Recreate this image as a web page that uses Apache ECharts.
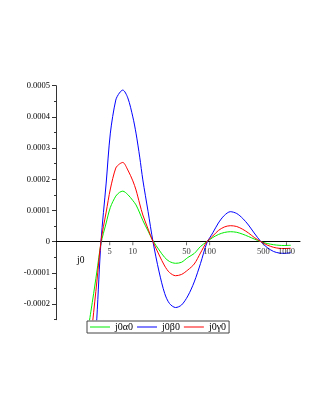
<!DOCTYPE html>
<html><head><meta charset="utf-8">
<script src="https://cdn.jsdelivr.net/npm/echarts@6/dist/echarts.min.js"></script>
<style>html,body{margin:0;padding:0;background:#fff}#c{width:323px;height:418px}</style>
</head><body><div id="c"></div>
<script>
const xValues = [2.5,3.0,3.4,3.85,4.5,5.1,6.0,6.7,7.4,8.6,10,11,12.3,13.5,15.8,18.3,22,26,30,36,43,52,63,76,92,110,130,155,186,225,270,320,380,465,560,680,800,930,1140];
const alphaVals = [-0.000313,-0.000187,-0.0000971,-0.000006,0.000060,0.000110,0.000146,0.000158,0.000162,0.000151,0.000132,0.000118,0.000092,0.000068,0.0000343,0.000003,-0.0000266,-0.0000506,-0.0000635,-0.0000692,-0.000066,-0.0000506,-0.0000378,-0.0000154,0.0,0.0000135,0.0000231,0.0000295,0.000032,0.0000301,0.000024,0.0000167,0.0000087,0.0,-0.0000058,-0.0000096,-0.0000115,-0.0000122,-0.0000115];
const betaVals = [-0.000786,-0.000459,-0.000245,0.0,0.000188,0.000348,0.000454,0.000477,0.000486,0.000461,0.000400,0.000348,0.000271,0.000198,0.0000965,0.0,-0.000097,-0.000166,-0.000198,-0.000211,-0.000203,-0.000174,-0.000129,-0.000070,-0.000004,0.0000285,0.000060,0.000084,0.0000962,0.0000904,0.0000744,0.0000535,0.0000279,0.0,-0.0000186,-0.0000314,-0.0000362,-0.0000372,-0.0000353];
const gammaVals = [-0.000443,-0.000257,-0.000129,0.000001,0.000095,0.000169,0.000236,0.000249,0.000254,0.000230,0.000195,0.000166,0.000121,0.0000856,0.0000407,0.0,-0.0000426,-0.0000779,-0.0000987,-0.000109,-0.000105,-0.0000907,-0.0000715,-0.0000362,0.0,0.0000183,0.0000359,0.0000471,0.0000513,0.0000487,0.0000397,0.0000279,0.0000138,0.0,-0.0000106,-0.000018,-0.0000212,-0.0000218,-0.0000212];
const seriesNames = ['j0\u03b10','j0\u03b20','j0\u03b30'];
const xTickValues = [5,10,50,100,500,1000];
const xTickLabels = ['5','10','50','100','500','1000'];
const yTickValues = [-0.0002,-0.0001,0,0.0001,0.0002,0.0003,0.0004,0.0005];
const yTickLabels = ['-0.0002','-0.0001','0','0.0001','0.0002','0.0003','0.0004','0.0005'];
const xAxisTitle = 'j0';

const serif = 'Liberation Serif, Times New Roman, serif';
const pairs = vals => xValues.map((x, i) => [x, vals[i]]);
const chart = echarts.init(document.getElementById('c'), null, {renderer: 'canvas'});
const lineSeries = (name, vals, color) => ({
  name, type: 'line', data: pairs(vals), showSymbol: false, smooth: 0.3,
  lineStyle: {color, width: 1}, itemStyle: {color}, clip: true, z: 3
});
chart.setOption({
  animation: false,
  backgroundColor: '#fff',
  grid: {left: 56, right: 23, top: 85.7, bottom: 98.3, containLabel: false},
  xAxis: {
    type: 'log', logBase: 10, min: 1, max: 1500,
    axisLine: {show: true, onZero: true, lineStyle: {color: '#000', width: 1}},
    axisTick: {show: false}, axisLabel: {show: false}, splitLine: {show: false}
  },
  yAxis: [{
    type: 'value', min: -0.00025, max: 0.0005, interval: 0.00005,
    axisLine: {show: true, lineStyle: {color: '#333', width: 1}},
    axisTick: {show: true, length: 2, lineStyle: {color: '#333'}},
    axisLabel: {
      margin: 6, fontFamily: serif, fontSize: 8.5, color: '#000',
      formatter: v => {
        const k = Math.round(v * 10000);
        if (Math.abs(v * 10000 - k) > 1e-6) return '';
        const idx = yTickValues.findIndex(t => Math.abs(t - k / 10000) < 1e-9);
        return idx >= 0 ? yTickLabels[idx] : '';
      }
    },
    splitLine: {show: false}
  }, {
    type: 'value', position: 'left', min: -0.00025, max: 0.0005, interval: 0.00005,
    axisLine: {show: false},
    axisTick: {show: true, length: 4, customValues: yTickValues, lineStyle: {color: '#333'}},
    axisLabel: {show: false}, splitLine: {show: false}
  }],
  legend: {
    data: seriesNames, left: 87, top: 321, orient: 'horizontal',
    icon: 'rect', itemWidth: 20, itemHeight: 1, itemGap: 4,
    padding: [1, 3, 1, 3], borderColor: '#444', borderWidth: 1, backgroundColor: '#fff',
    textStyle: {fontFamily: serif, fontSize: 10, color: '#000'}
  },
  graphic: [{
    type: 'text', left: 77, top: 255,
    style: {text: xAxisTitle, font: '9.5px ' + serif, fill: '#000'}
  }],
  series: [
    lineSeries(seriesNames[0], alphaVals, '#00ee00'),
    lineSeries(seriesNames[1], betaVals, '#0000ff'),
    lineSeries(seriesNames[2], gammaVals, '#ff0000'),
    {
      name: 'xticks', type: 'scatter', silent: true, z: 4,
      data: xTickValues.map(v => [v, 0]),
      symbol: 'rect', symbolSize: [1, 3], symbolOffset: [0, 2],
      itemStyle: {color: '#444'},
      label: {
        show: true, position: 'bottom', distance: 2,
        fontFamily: serif, fontSize: 8.5, color: '#000',
        formatter: p => xTickLabels[p.dataIndex]
      }
    }
  ]
});
</script></body></html>
